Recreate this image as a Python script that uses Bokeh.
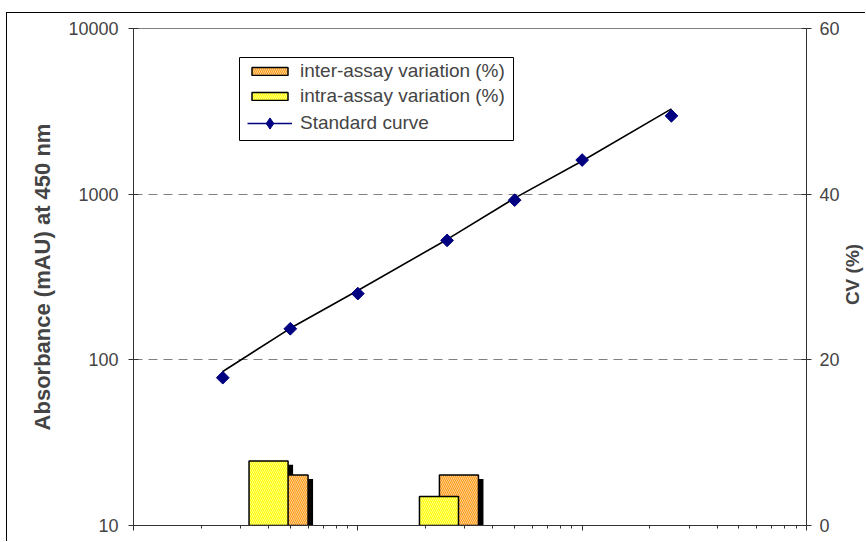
import math
from bokeh.plotting import figure
from bokeh.models import (Range1d, LinearAxis, LinearScale, FixedTicker, PrintfTickFormatter,
                          Legend, LegendItem, BoxAnnotation, Label)
from bokeh.embed import file_html
from bokeh.resources import INLINE

# ---- data ----
std_conc = [2.5, 5, 10, 25, 50, 100, 250]          # x (log axis)
std_abs = [78, 154, 251, 526, 920, 1607, 2970]     # mAU
fit_conc = [2.5, 5, 10, 25, 50, 100, 250]
fit_abs = [85, 155, 262, 533, 946, 1585, 3270]     # drawn standard curve line

ctrl_conc = [4.0, 23.0]                            # position of the two control samples
intra_cv = [7.8, 3.5]                              # intra-assay variation (%)
inter_cv = [6.1, 6.1]                              # inter-assay variation (%)

x_ticks = [1, 10, 100, 1000]
y_ticks = [10, 100, 1000, 10000]
cv_ticks = [0, 20, 40, 60]

FONT = "Liberation Sans"

# ---- bar geometry (in decades / CV units, derived from pixel offsets) ----
HALF = 0.087      # half bar width in decades
SHIFT = 0.089     # inter bar offset in decades
SDX = 0.0223      # shadow x offset
SDY = 0.48        # shadow y offset (CV units)

def edges(centers, shift):
    lefts = [c * 10 ** (shift - HALF) for c in centers]
    rights = [c * 10 ** (shift + HALF) for c in centers]
    return lefts, rights

yl, yr = edges(ctrl_conc, 0.0)
ol, orr = edges(ctrl_conc, SHIFT)

p = figure(width=859, height=529, x_axis_type="log", y_axis_type="log",
           x_range=Range1d(x_ticks[0], x_ticks[-1]),
           y_range=Range1d(y_ticks[0], y_ticks[-1]),
           output_backend="svg", toolbar_location=None,
           min_border_left=126, min_border_right=60,
           min_border_top=15, min_border_bottom=17,
           outline_line_color="#808080",
           styles={"margin-left": "6px", "margin-top": "12px",
                   "border-left": "1px solid black", "border-top": "1px solid black"})
p.extra_y_ranges = {"cv": Range1d(cv_ticks[0], cv_ticks[-1])}
p.extra_y_scales = {"cv": LinearScale()}

# left axis
ya = p.yaxis[0]
ya.ticker = FixedTicker(ticks=y_ticks, minor_ticks=[])
ya.formatter = PrintfTickFormatter(format="%d")
ya.axis_label = "Absorbance (mAU) at 450 nm"
ya.axis_label_text_font = FONT
ya.axis_label_text_font_style = "bold"
ya.axis_label_text_font_size = "22px"
ya.axis_label_standoff = 10
ya.major_label_text_font = FONT
ya.major_label_text_font_size = "18px"
ya.major_label_standoff = 10
ya.major_tick_in = 5
ya.major_tick_out = 5
ya.axis_line_color = "#333333"
ya.major_tick_line_color = "#333333"

# bottom axis (labels hidden)
xa = p.xaxis[0]
xa.ticker = FixedTicker(ticks=x_ticks,
                        minor_ticks=[m * 10 ** k for k in range(3) for m in range(2, 10)])
xa.major_label_text_font_size = "1px"
xa.major_label_text_alpha = 0
xa.major_label_standoff = 0
xa.major_tick_in = 0
xa.major_tick_out = 5
xa.minor_tick_in = 0
xa.minor_tick_out = 3
xa.axis_line_color = "#333333"
xa.major_tick_line_color = "#333333"
xa.minor_tick_line_color = "#333333"

# right axis
ra = LinearAxis(y_range_name="cv", ticker=FixedTicker(ticks=cv_ticks, minor_ticks=[]))
ra.major_label_text_font = FONT
ra.major_label_text_font_size = "18px"
ra.major_label_standoff = 8
ra.major_tick_in = 5
ra.major_tick_out = 5
ra.axis_line_color = "#333333"
ra.major_tick_line_color = "#333333"
p.add_layout(ra, "right")

# right axis title, reading bottom-to-top, placed in the right side panel
p.add_layout(Label(x=10, y=251, x_units="screen", y_units="screen", text="CV (%)",
                   angle=math.pi / 2, text_align="center", text_baseline="middle",
                   text_font=FONT, text_font_style="bold", text_font_size="19px"),
             "right")

p.xgrid.visible = False
p.ygrid.grid_line_color = "#808080"
p.ygrid.grid_line_dash = "9 6"
p.ygrid.grid_line_width = 1

# ---- bars ----
p.quad(left=[v * 10 ** SDX for v in yl], right=[v * 10 ** SDX for v in yr],
       top=[v - SDY for v in intra_cv], bottom=[-1, -1],
       y_range_name="cv", fill_color="black", line_color=None)
p.quad(left=[v * 10 ** SDX for v in ol], right=[v * 10 ** SDX for v in orr],
       top=[v - SDY for v in inter_cv], bottom=[-1, -1],
       y_range_name="cv", fill_color="black", line_color=None)

inter_r = p.quad(left=ol, right=orr, top=inter_cv, bottom=[0, 0], y_range_name="cv",
                 fill_color="#FF9912", line_color="black", line_width=1.5,
                 hatch_pattern="\\", hatch_color="white", hatch_alpha=0.55,
                 hatch_scale=4, hatch_weight=1)
intra_r = p.quad(left=yl, right=yr, top=intra_cv, bottom=[0, 0], y_range_name="cv",
                 fill_color="#FFFF00", line_color="black", line_width=1.5,
                 hatch_pattern="/", hatch_color="white", hatch_alpha=0.55,
                 hatch_scale=4, hatch_weight=1)

# ---- standard curve ----
p.line(fit_conc, fit_abs, line_color="black", line_width=1.6)
p.scatter(std_conc, std_abs, marker="square", angle=math.pi / 4, size=9,
          fill_color="#000080", line_color="#000080")
# legend-only sample glyphs (placed outside the visible range)
leg_line = p.line(x=[1e-9, 2e-9], y=[1e-9, 2e-9], line_color="#000080", line_width=1.5)
leg_pt = p.scatter(x=[1e-9], y=[1e-9], marker="diamond", size=12,
                   fill_color="#000080", line_color="#000080")

# legend frame
p.add_layout(BoxAnnotation(left=106, right=380, top=468, bottom=385,
                           left_units="screen", right_units="screen",
                           top_units="screen", bottom_units="screen",
                           fill_color="white", fill_alpha=1,
                           line_color="black", line_width=1, line_alpha=1))

def make_legend(items, loc, gh):
    lg = Legend(items=items, location=loc)
    lg.label_text_font = FONT
    lg.label_text_font_size = "19px"
    lg.glyph_width = 45
    lg.glyph_height = gh
    lg.label_height = 22
    lg.spacing = 3
    lg.padding = 0
    lg.margin = 0
    lg.label_standoff = 8
    lg.border_line_color = None
    lg.background_fill_alpha = 0
    return lg

p.add_layout(make_legend([
    LegendItem(label="inter-assay variation (%)", renderers=[inter_r]),
    LegendItem(label="intra-assay variation (%)", renderers=[intra_r]),
], (114, 418), 10), "center")
p.add_layout(make_legend([
    LegendItem(label="Standard curve", renderers=[leg_line, leg_pt]),
], (114, 388), 28), "center")

open("out.html", "w").write(file_html(p, INLINE))
